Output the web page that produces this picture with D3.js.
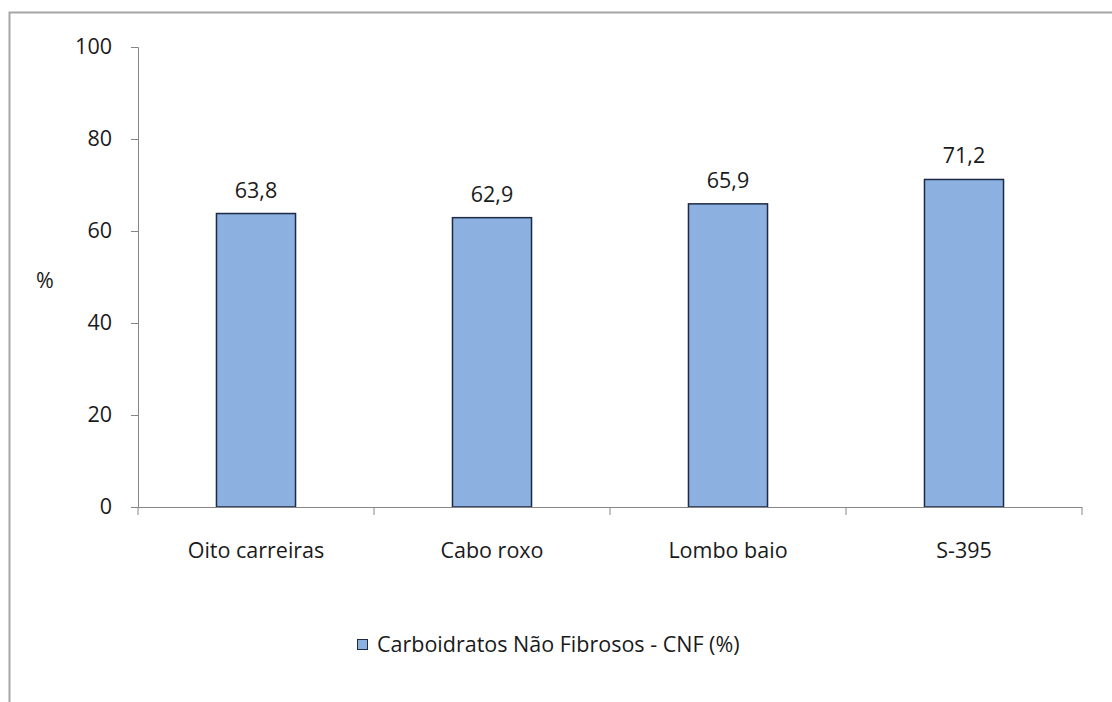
<!DOCTYPE html>
<html><head><meta charset="utf-8">
<script src="https://cdn.jsdelivr.net/npm/d3@7"></script>
<style>body{margin:0;background:#fff;}svg{display:block;font-family:"Open Sans",sans-serif;}</style>
</head><body><svg id="c" width="1112" height="702"></svg>
<script>
const categories = ["Oito carreiras","Cabo roxo","Lombo baio","S-395"];
const values = [63.8, 62.9, 65.9, 71.2];
const valueLabels = ["63,8","62,9","65,9","71,2"];
const yTicks = [0,20,40,60,80,100];
const seriesName = "Carboidratos Não Fibrosos - CNF (%)";

const FS = 21.5;
const svg = d3.select("#c");
// outer frame
svg.append("path").attr("d","M9.5,702 V12.5 H1112").attr("fill","none").attr("stroke","#a6a6a6").attr("stroke-width",2);

const x0 = 138, x1 = 1082, yTop = 47, yBot = 507;
const x = d3.scaleBand().domain(categories).range([x0,x1]).paddingInner(0.665).paddingOuter(0.3325);
const y = d3.scaleLinear().domain([0,100]).range([yBot,yTop]);

// bars
svg.selectAll("rect.bar").data(values).join("rect")
  .attr("x",(d,i)=>x(categories[i])).attr("width",x.bandwidth())
  .attr("y",d=>y(d)).attr("height",d=>y(0)-y(d))
  .attr("fill","#8cb1e0").attr("stroke","#1c2a45").attr("stroke-width",1.5);

// y axis
const ya = svg.append("g").attr("transform",`translate(${x0},0)`)
  .call(d3.axisLeft(y).tickValues(yTicks).tickSize(7).tickPadding(19).tickFormat(d3.format("d")));
ya.select(".domain").attr("stroke","#868686");
ya.selectAll(".tick line").attr("stroke","#868686");
ya.selectAll("text").attr("font-size",FS).attr("fill","#1a1a1a").attr("font-family","'Open Sans',sans-serif");

// x axis
svg.append("line").attr("x1",x0).attr("x2",x1).attr("y1",yBot+0.5).attr("y2",yBot+0.5).attr("stroke","#868686");
const bounds = d3.range(categories.length+1).map(i=>x0+i*x.step());
svg.selectAll("line.xt").data(bounds).join("line")
  .attr("x1",d=>d).attr("x2",d=>d).attr("y1",yBot).attr("y2",yBot+8).attr("stroke","#868686");
svg.selectAll("text.xl").data(categories).join("text")
  .attr("x",d=>x(d)+x.bandwidth()/2).attr("y",yBot+51).attr("text-anchor","middle")
  .attr("font-size",FS).attr("fill","#1a1a1a").text(d=>d);

// value labels
svg.selectAll("text.vl").data(values).join("text")
  .attr("x",(d,i)=>x(categories[i])+x.bandwidth()/2).attr("y",d=>y(d)-16)
  .attr("text-anchor","middle").attr("font-size",FS).attr("fill","#1a1a1a")
  .text((d,i)=>valueLabels[i]);

// y label
svg.append("text").attr("x",45).attr("y",288).attr("text-anchor","middle").attr("font-size",FS).attr("fill","#1a1a1a").text("%");

// legend
svg.append("rect").attr("x",357.5).attr("y",639.5).attr("width",10).attr("height",10).attr("fill","#8cb1e0").attr("stroke","#1c2a45").attr("stroke-width",1);
svg.append("text").attr("x",377).attr("y",652).attr("font-size",FS).attr("fill","#1a1a1a").text(seriesName);
</script></body></html>
